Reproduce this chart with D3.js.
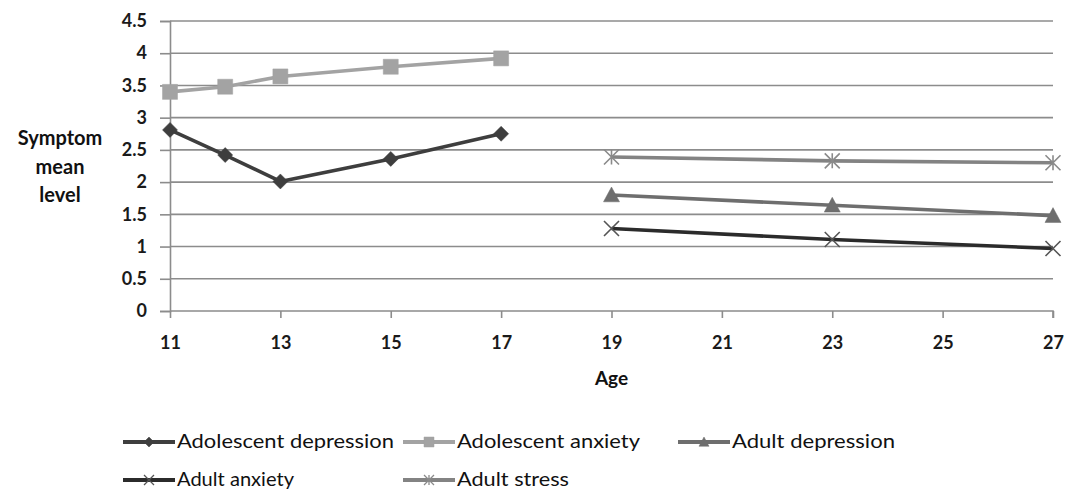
<!DOCTYPE html>
<html><head><meta charset="utf-8">
<script src="https://cdn.jsdelivr.net/npm/d3@7"></script>
<style>body{margin:0;background:#fff}svg{display:block}text{font-family:Lato,"Open Sans",sans-serif}</style>
</head><body><svg id="c" width="1068" height="494"></svg>
<script>
const adolAges = [11, 12, 13, 15, 17];
const adultAges = [19, 23, 27];
const adolDepression = [2.81, 2.42, 2.01, 2.36, 2.75];
const adolAnxiety = [3.40, 3.48, 3.64, 3.79, 3.92];
const adultDepression = [1.80, 1.64, 1.48];
const adultAnxiety = [1.28, 1.11, 0.97];
const adultStress = [2.39, 2.33, 2.30];
const xTicks = [11, 13, 15, 17, 19, 21, 23, 25, 27];
const yTicks = [0, 0.5, 1, 1.5, 2, 2.5, 3, 3.5, 4, 4.5];
const seriesNames = ["Adolescent depression", "Adolescent anxiety", "Adult depression", "Adult anxiety", "Adult stress"];

const series = [
  {name: seriesNames[0], ages: adolAges, vals: adolDepression, color: "#3e3e3e", marker: "diamond", mcolor: "#3e3e3e"},
  {name: seriesNames[1], ages: adolAges, vals: adolAnxiety, color: "#a3a3a3", marker: "square", mcolor: "#a3a3a3"},
  {name: seriesNames[2], ages: adultAges, vals: adultDepression, color: "#6e6e6e", marker: "triangle", mcolor: "#6e6e6e"},
  {name: seriesNames[3], ages: adultAges, vals: adultAnxiety, color: "#2b2b2b", marker: "x", mcolor: "#555"},
  {name: seriesNames[4], ages: adultAges, vals: adultStress, color: "#838383", marker: "star", mcolor: "#8a8a8a"}
];

const svg = d3.select("#c");
const x = d3.scaleLinear().domain([11, 27]).range([170, 1053]);
const y = d3.scaleLinear().domain([0, 4.5]).range([311, 21]);
const gridColor = "#8c8c8c";

// gridlines
svg.append("g").selectAll("line").data(yTicks.filter(v => v > 0)).join("line")
  .attr("x1", x(11)).attr("x2", x(27))
  .attr("y1", d => y(d)).attr("y2", d => y(d))
  .attr("stroke", gridColor).attr("stroke-width", 1.6);

// y axis
const yAxis = svg.append("g").attr("transform", `translate(${x(11)},0)`)
  .call(d3.axisLeft(y).tickValues(yTicks).tickSize(10).tickPadding(13).tickFormat(d => d));
yAxis.select(".domain").attr("stroke", gridColor).attr("stroke-width", 1.6);
yAxis.selectAll(".tick line").attr("stroke", gridColor).attr("stroke-width", 1.6);
yAxis.selectAll("text").attr("font-size", 18).attr("font-weight", "bold").attr("fill", "#1a1a1a").attr("font-family", "Lato");

// x axis
const xAxis = svg.append("g").attr("transform", `translate(0,${y(0)})`)
  .call(d3.axisBottom(x).tickValues(xTicks).tickSize(7).tickPadding(18).tickFormat(d => d));
xAxis.select(".domain").attr("stroke", gridColor).attr("stroke-width", 1.6).attr("d", `M${x(11)},0H${x(27)}V7`);
xAxis.selectAll(".tick line").attr("stroke", gridColor).attr("stroke-width", 1.6);
xAxis.selectAll("text").attr("font-size", 18).attr("font-weight", "bold").attr("fill", "#1a1a1a").attr("font-family", "Lato");

// axis titles
svg.append("text").attr("x", x(19)).attr("y", 385).attr("text-anchor", "middle")
  .attr("font-size", 19).attr("font-weight", "bold").attr("fill", "#111").text("Age");
const ytLines = ["Symptom", "mean", "level"];
svg.append("g").selectAll("text").data(ytLines).join("text")
  .attr("x", 60).attr("y", (d, i) => 145 + i * 28.5).attr("text-anchor", "middle")
  .attr("font-size", 20).attr("font-weight", "bold").attr("fill", "#111").text(d => d);

function markerPath(type, s) {
  const h = s / 2;
  if (type === "diamond") return `M0,${-h}L${h},0L0,${h}L${-h},0Z`;
  if (type === "square") return `M${-h},${-h}H${h}V${h}H${-h}Z`;
  if (type === "triangle") return `M0,${-h}L${h},${h * 0.85}H${-h}Z`;
  if (type === "x") return `M${-h},${-h}L${h},${h}M${-h},${h}L${h},${-h}`;
  if (type === "star") return `M${-h},${-h}L${h},${h}M${-h},${h}L${h},${-h}M0,${-h}V${h}`;
}
const filled = t => ["diamond", "square", "triangle"].includes(t);
const mSize = {diamond: 15, square: 15, triangle: 16, x: 15, star: 15};

const line = d3.line().x(d => x(d[0])).y(d => y(d[1]));
const plot = svg.append("g");
series.forEach(s => {
  const pts = s.ages.map((a, i) => [a, s.vals[i]]);
  plot.append("path").attr("d", line(pts)).attr("fill", "none")
    .attr("stroke", s.color).attr("stroke-width", 3.6).attr("stroke-linejoin", "round");
  plot.append("g").selectAll("path").data(pts).join("path")
    .attr("transform", d => `translate(${x(d[0])},${y(d[1])})`)
    .attr("d", markerPath(s.marker, mSize[s.marker]))
    .attr("fill", filled(s.marker) ? s.mcolor : "none")
    .attr("stroke", s.mcolor).attr("stroke-width", filled(s.marker) ? 0.5 : 1.6);
});

// legend
const legendPos = [[123, 442], [403, 442], [678, 442], [123, 480], [403, 480]];
const legendTextW = [217, 183, 163, 117, 112];
const lg = svg.append("g");
series.forEach((s, i) => {
  const [lx, ly] = legendPos[i];
  const g = lg.append("g").attr("transform", `translate(${lx},${ly})`);
  g.append("line").attr("x1", 0).attr("x2", 52).attr("y1", 0).attr("y2", 0)
    .attr("stroke", s.color).attr("stroke-width", 4);
  g.append("path").attr("transform", "translate(26,0)")
    .attr("d", markerPath(s.marker, 10))
    .attr("fill", filled(s.marker) ? s.mcolor : "none")
    .attr("stroke", s.mcolor).attr("stroke-width", filled(s.marker) ? 0.5 : 1.3);
  g.append("text").attr("x", 54).attr("y", 6).attr("font-size", 19).attr("fill", "#111")
    .attr("textLength", legendTextW[i]).attr("lengthAdjust", "spacingAndGlyphs").text(s.name);
});
</script></body></html>
